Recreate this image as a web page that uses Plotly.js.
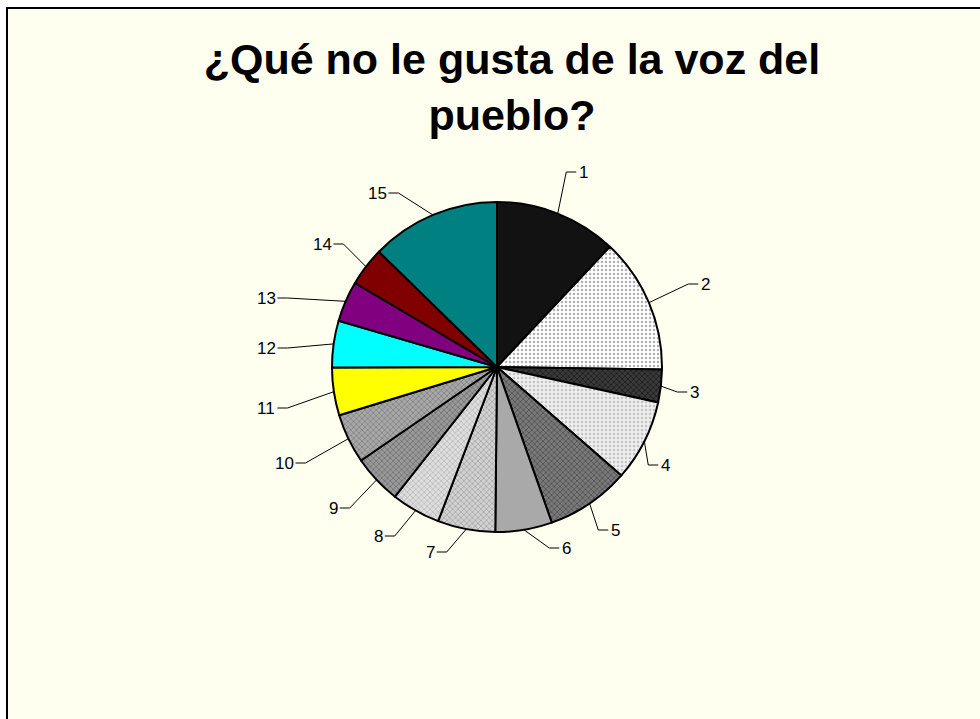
<!DOCTYPE html>
<html>
<head>
<meta charset="utf-8">
<script src="https://cdn.plot.ly/plotly-3.0.1.min.js"></script>
<style>html,body{margin:0;padding:0;background:#fff;}#chart{width:980px;height:719px;}</style>
</head>
<body>
<div id="chart"></div>
<script>
// ---- data ----
const categories = ['1','2','3','4','5','6','7','8','9','10','11','12','13','14','15'];
const values = [43.2, 47.7, 11.5, 28.7, 29.5, 20.0, 20.3, 17.3, 17.3, 17.5, 16.8, 16.5, 14.3, 13.7, 45.7];
const sliceColors = ['#121212','#f6f6f6','#2f2f2f','#e2e2e2','#6b6b6b','#a9a9a9','#c2c2c2','#cfcfcf','#8c8c8c','#9a9a9a','#ffff00','#00ffff','#800080','#800000','#008080'];
const titleText = '¿Qué no le gusta de la voz del<br>pueblo?';

// ---- layout (pixels) ----
const W = 980, H = 719;
const CX = 497, CY = 367, R = 165;
// label centre positions (layout, px)
const labelPosX = [583, 705, 694, 665, 615, 566, 430, 378, 333, 284, 266, 266, 266, 322, 377];
const labelPosY = [172, 284, 392, 465, 530, 548, 552, 536, 508, 463, 408, 348, 298, 244, 193];
const labelFont = 17;

const px2x = p => p / W;
const py2y = p => 1 - p / H;

const total = values.reduce((a, b) => a + b, 0);
let cum = 0;
const annotations = [];
const shapes = [{
  type: 'rect', xref: 'paper', yref: 'paper', layer: 'below',
  x0: px2x(7), x1: 1.02, y0: -0.02, y1: py2y(8),
  fillcolor: '#fffff0', line: {color: '#000', width: 2}
}];
values.forEach((v, i) => {
  const mid = (cum + v / 2) / total * 2 * Math.PI;
  cum += v;
  const ex = CX + R * Math.sin(mid), ey = CY - R * Math.cos(mid);
  const lx = labelPosX[i], ly = labelPosY[i];
  const halfW = categories[i].length * 0.556 * labelFont / 2;
  let sx, hx;
  if (lx >= CX) { hx = lx - halfW - 2; sx = hx - 10; }
  else { hx = lx + halfW + 2; sx = hx + 10; }
  shapes.push({
    type: 'path', xref: 'paper', yref: 'paper', layer: 'above',
    path: `M ${px2x(ex)} ${py2y(ey)} L ${px2x(sx)} ${py2y(ly)} L ${px2x(hx)} ${py2y(ly)}`,
    line: {color: '#000', width: 1}
  });
  annotations.push({
    xref: 'paper', yref: 'paper', x: px2x(lx), y: py2y(ly),
    xanchor: 'center', yanchor: 'middle', showarrow: false,
    text: categories[i],
    font: {family: 'Liberation Sans, Arial, sans-serif', size: labelFont, color: '#000'}
  });
});

const trace = {
  type: 'pie',
  labels: categories,
  values: values,
  sort: false,
  direction: 'clockwise',
  rotation: 0,
  textinfo: 'none',
  hoverinfo: 'label+value',
  showlegend: false,
  domain: {x: [px2x(CX - R), px2x(CX + R)], y: [py2y(CY + R), py2y(CY - R)]},
  marker: {
    colors: sliceColors,
    line: {color: '#000', width: 2},
    pattern: {
      shape: ['', '.', 'x', '.', 'x', '', 'x', 'x', 'x', 'x', '', '', '', '', ''],
      fgcolor: ['', '#b0b0b0', '#111111', '#c4c4c4', '#444444', '', '#9a9a9a', '#b0b0b0', '#666666', '#777777', '', '', '', '', ''],
      bgcolor: ['', '#ffffff', '#3a3a3a', '#eeeeee', '#7a7a7a', '', '#d2d2d2', '#dedede', '#9a9a9a', '#a8a8a8', '', '', '', '', ''],
      size: 4, solidity: 0.3
    }
  }
};

const layout = {
  width: W, height: H,
  margin: {l: 0, r: 0, t: 0, b: 0},
  paper_bgcolor: '#ffffff',
  title: {
    text: titleText,
    font: {family: 'Liberation Sans, Arial, sans-serif', size: 43, color: '#000', weight: 'bold'},
    x: 512 / W, xanchor: 'center', xref: 'paper',
    y: 1 - 74 / H, yanchor: 'top', yref: 'container'
  },
  shapes: shapes,
  annotations: annotations
};

Plotly.newPlot('chart', [trace], layout, {displayModeBar: false, staticPlot: true});
</script>
</body>
</html>
